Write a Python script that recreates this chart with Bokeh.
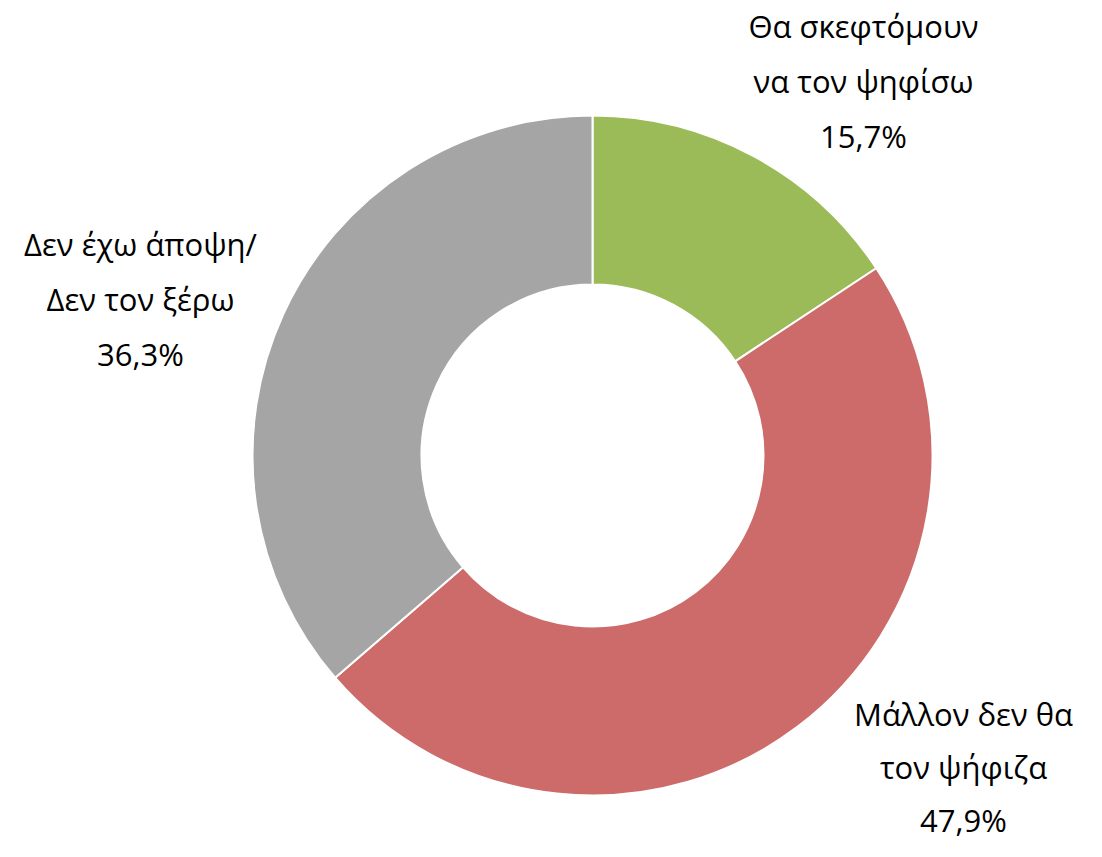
from math import pi
from bokeh.plotting import figure
from bokeh.models import Range1d, ColumnDataSource
from bokeh.core.properties import value
from bokeh.embed import file_html
from bokeh.resources import INLINE

# ---- data ----
categories = ["Θα σκεφτόμουν\nνα τον ψηφίσω", "Μάλλον δεν θα\nτον ψήφιζα", "Δεν έχω άποψη/\nΔεν τον ξέρω"]
values = [15.7, 47.9, 36.3]
colors = ["#9BBB59", "#CC6B69", "#A5A5A5"]

# ---- layout (figure pixel units, y up) ----
W, H = 1086, 841
cx, cy = 592, H - 455
r_out, r_in = 340, 171
label_pos = [(863, H - 25), (963, H - 713), (140, H - 243)]  # centre of first line
line_gaps = [55, 53, 55]
font = "Open Sans"
fsize = "31px"

p = figure(width=W, height=H, output_backend="svg", toolbar_location=None,
           x_range=Range1d(0, W), y_range=Range1d(0, H), min_border=0)
p.axis.visible = False
p.grid.visible = False
p.outline_line_color = None
p.background_fill_color = "white"

total = sum(values)
starts, ends = [], []
acc = 0.0
for v in values:
    a0 = pi / 2 - acc / total * 2 * pi
    acc += v
    a1 = pi / 2 - acc / total * 2 * pi
    starts.append(a1)
    ends.append(a0)

src = ColumnDataSource(dict(x=[cx] * 3, y=[cy] * 3, start=starts, end=ends, color=colors))
p.annular_wedge(x="x", y="y", inner_radius=r_in, outer_radius=r_out,
                start_angle="start", end_angle="end", fill_color="color",
                line_color="white", line_width=2, source=src,
                inner_radius_units="screen", outer_radius_units="screen")

tx, ty, tt = [], [], []
for cat, v, (lx, ly), g in zip(categories, values, label_pos, line_gaps):
    lines = cat.split("\n") + [f"{v:.1f}".replace(".", ",") + "%"]
    for i, ln in enumerate(lines):
        tx.append(lx)
        ty.append(ly - i * g)
        tt.append(ln)

p.text(x=tx, y=ty, text=tt, text_align="center", text_baseline="middle",
       text_font=value(font), text_font_size=fsize, text_color="#000000")

open("out.html", "w").write(file_html(p, INLINE))
